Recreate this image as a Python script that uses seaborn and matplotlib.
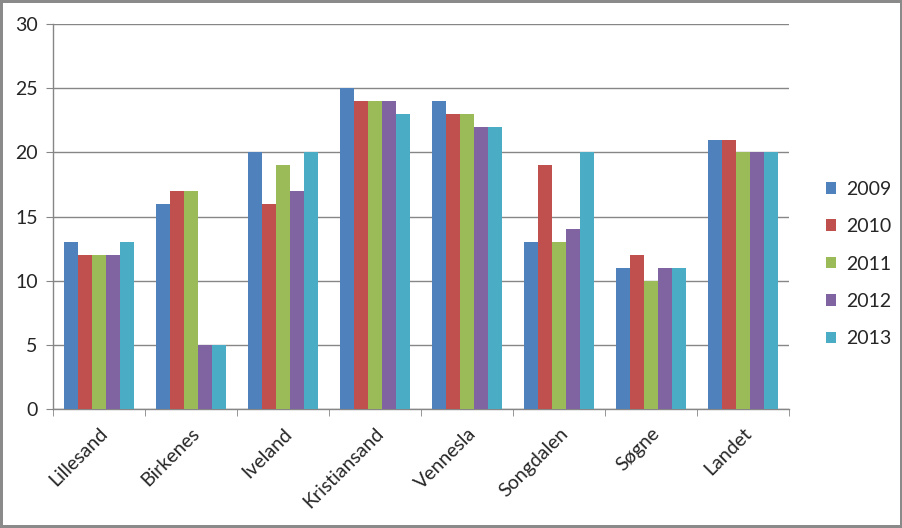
import matplotlib
matplotlib.use("Agg")
import matplotlib.pyplot as plt
import pandas as pd
import seaborn as sns

# data
places = ["Lillesand", "Birkenes", "Iveland", "Kristiansand", "Vennesla", "Songdalen", "Søgne", "Landet"]
years = ["2009", "2010", "2011", "2012", "2013"]
v2009 = [13, 16, 20, 25, 24, 13, 11, 21]
v2010 = [12, 17, 16, 24, 23, 19, 12, 21]
v2011 = [12, 17, 19, 24, 23, 13, 10, 20]
v2012 = [12, 5, 17, 24, 22, 14, 11, 20]
v2013 = [13, 5, 20, 23, 22, 20, 11, 20]
colors = ["#4F81BD", "#C0504D", "#9BBB59", "#8064A2", "#4BACC6"]

rows = []
for year, vals in zip(years, [v2009, v2010, v2011, v2012, v2013]):
    for place, v in zip(places, vals):
        rows.append({"place": place, "year": year, "value": v})
df = pd.DataFrame(rows)

sns.set_style("white")
plt.rcParams["font.family"] = ["Lato", "DejaVu Sans"]
fs = 14

fig = plt.figure(figsize=(9.03, 5.28), dpi=100)
ax = fig.add_axes([0.0587, 0.2254, 0.815, 0.7291])

sns.barplot(data=df, x="place", y="value", hue="year", palette=colors,
            width=0.76, gap=0, saturation=1, linewidth=0, ax=ax, zorder=3)

grey = "#868686"
ax.set_ylim(0, 30)
ax.set_yticks(range(0, 31, 5))
ax.set_xlim(-0.5, len(places) - 0.5)
ax.yaxis.grid(True, color=grey, linewidth=1)
ax.set_axisbelow(True)
for s in ["top", "right"]:
    ax.spines[s].set_visible(False)
for s in ["left", "bottom"]:
    ax.spines[s].set_color(grey)
    ax.spines[s].set_linewidth(1)

ax.set_xlabel("")
ax.set_ylabel("")
ax.tick_params(axis="y", left=True, length=5, color=grey, labelsize=fs, pad=6)
ax.set_xticks([i - 0.5 for i in range(len(places) + 1)], minor=True)
ax.tick_params(axis="x", which="minor", bottom=True, length=5, color=grey)
ax.tick_params(axis="x", which="major", bottom=False, labelsize=fs, pad=8)
ax.set_xticklabels(places, rotation=45, ha="right", rotation_mode="anchor")

leg = ax.legend(loc="center left", bbox_to_anchor=(0.895, 0.5),
                bbox_transform=fig.transFigure, frameon=False,
                fontsize=fs, handlelength=0.55, handleheight=0.55,
                handletextpad=0.5, labelspacing=1.05)

fig.patch.set_edgecolor("#8a8a8a")
fig.patch.set_linewidth(4)

fig.savefig("out.png", dpi=100, edgecolor=fig.get_edgecolor())
